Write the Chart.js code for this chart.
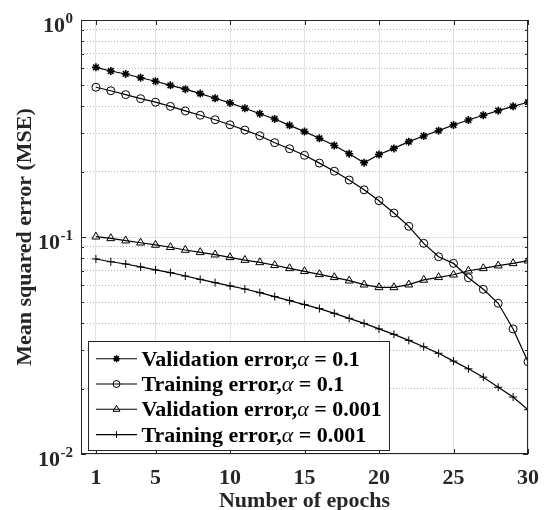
<!DOCTYPE html>
<html><head><meta charset="utf-8">
<script src="https://cdn.jsdelivr.net/npm/chart.js@4"></script>
<style>html,body{margin:0;padding:0;background:#fff}canvas{display:block}</style>
</head><body>
<canvas id="c" width="550" height="510"></canvas>
<script>
const epochs = [1,2,3,4,5,6,7,8,9,10,11,12,13,14,15,16,17,18,19,20,21,22,23,24,25,26,27,28,29,30];
const valErr01 = [0.605,0.582,0.564,0.542,0.522,0.500,0.480,0.458,0.436,0.415,0.392,0.370,0.350,0.327,0.306,0.285,0.264,0.242,0.220,0.240,0.256,0.275,0.292,0.309,0.328,0.346,0.364,0.382,0.400,0.418];
const trainErr01 = [0.490,0.472,0.453,0.434,0.418,0.400,0.381,0.364,0.347,0.329,0.311,0.293,0.272,0.255,0.238,0.219,0.201,0.183,0.165,0.147,0.129,0.112,0.0935,0.0811,0.0756,0.0649,0.0574,0.0495,0.0377,0.0266];
const valErr0001 = [0.1003,0.0986,0.0962,0.0941,0.0919,0.0897,0.0871,0.0850,0.0829,0.0806,0.0783,0.0764,0.0741,0.0717,0.0695,0.0673,0.0652,0.0629,0.0603,0.0586,0.0586,0.0603,0.0634,0.0652,0.0670,0.0699,0.0717,0.0738,0.0756,0.0778];
const trainErr0001 = [0.0792,0.0769,0.0751,0.0728,0.0705,0.0685,0.0661,0.0638,0.0616,0.0595,0.0576,0.0554,0.0531,0.0509,0.0488,0.0468,0.0445,0.0422,0.0400,0.0377,0.0356,0.0334,0.0312,0.0291,0.0268,0.0247,0.0226,0.0203,0.0183,0.0160];
const seriesLabels = ['Validation error,α = 0.1','Training error,α = 0.1','Validation error,α = 0.001','Training error,α = 0.001'];
const seriesMarkers = ['star','circle','triangle','cross'];
const xTickValues = [1,5,10,15,20,25,30];
const yTickValues = [0.01,0.02,0.03,0.04,0.05,0.06,0.07,0.08,0.09,0.1,0.2,0.3,0.4,0.5,0.6,0.7,0.8,0.9,1];
const yMajorValues = [0.01,0.1,1];
const yMajorExponents = ['-2','-1','0'];
const xTitle = 'Number of epochs';
const yTitle = 'Mean squared error (MSE)';

const FONT = '"Liberation Serif", "Times New Roman", serif';
const AX = '#262626';
const isMajor = v => yMajorValues.some(m => Math.abs(m - v) < 1e-9);

function mk(vals, i){
  const radius = seriesMarkers[i]==='triangle' ? 4.6 : 4;
  return {
    label: seriesLabels[i],
    data: vals.map((v,k)=>({x:epochs[k], y:v})),
    borderColor:'#000', borderWidth:1.2,
    pointStyle: seriesMarkers[i], pointRadius: radius,
    pointBorderWidth: seriesMarkers[i]==='star' ? 1.6 : 1,
    pointBorderColor:'#000', pointBackgroundColor:'rgba(0,0,0,0)',
    tension:0, fill:false
  };
}

function drawMarker(ctx, style, radius, bw, x, y){
  if (Chart.helpers && Chart.helpers.drawPoint){
    Chart.helpers.drawPoint(ctx, {pointStyle:style, rotation:0, radius:radius, borderWidth:bw}, x, y);
    return;
  }
  ctx.beginPath();
  if (style==='circle'){ ctx.arc(x,y,radius,0,Math.PI*2); }
  else if (style==='triangle'){ for(let k=0;k<3;k++){const a=-Math.PI/2+k*2*Math.PI/3; const px=x+Math.cos(a)*radius, py=y+Math.sin(a)*radius; k?ctx.lineTo(px,py):ctx.moveTo(px,py);} ctx.closePath(); }
  else { const arms = style==='star'?[0,45,90,135]:[0,90]; arms.forEach(d=>{const a=d*Math.PI/180; ctx.moveTo(x-Math.cos(a)*radius,y-Math.sin(a)*radius); ctx.lineTo(x+Math.cos(a)*radius,y+Math.sin(a)*radius);}); }
  ctx.stroke();
}

const decor = {
  id:'decor',
  afterDraw(chart){
    const {ctx, chartArea:a, scales:{x, y}} = chart;
    ctx.save();
    ctx.strokeStyle = AX; ctx.lineWidth = 1;
    // inner ticks
    ctx.beginPath();
    xTickValues.forEach(v=>{
      const px = Math.round(x.getPixelForValue(v)) + 0.5;
      ctx.moveTo(px, a.bottom); ctx.lineTo(px, a.bottom - 5);
      ctx.moveTo(px, a.top); ctx.lineTo(px, a.top + 5);
    });
    yTickValues.forEach(v=>{
      const py = Math.round(y.getPixelForValue(v)) + 0.5;
      const len = isMajor(v) ? 5 : 3;
      ctx.moveTo(a.left, py); ctx.lineTo(a.left + len, py);
      ctx.moveTo(a.right, py); ctx.lineTo(a.right - len, py);
    });
    ctx.stroke();
    // box
    ctx.strokeRect(Math.round(a.left)+0.5, Math.round(a.top)+0.5, Math.round(a.width)-1, Math.round(a.height)-1);
    // y tick labels 10^n
    ctx.fillStyle = AX;
    ctx.textAlign = 'right'; ctx.textBaseline = 'alphabetic';
    yMajorValues.forEach((v,i)=>{
      const py = y.getPixelForValue(v);
      const right = a.left - 8;
      ctx.font = 'bold 15px ' + FONT;
      const ew = ctx.measureText(yMajorExponents[i]).width;
      ctx.fillText(yMajorExponents[i], right, py + 3);
      ctx.font = 'bold 22px ' + FONT;
      ctx.fillText('10', right - ew - 0.5, py + 11.5);
    });
    // legend
    const lx = a.left + 7, ly = a.bottom - 113, lw = 301, lh = 109;
    ctx.fillStyle = '#fff';
    ctx.fillRect(lx, ly, lw, lh);
    ctx.strokeStyle = AX;
    ctx.strokeRect(lx + 0.5, ly + 0.5, lw, lh);
    chart.data.datasets.forEach((ds, i)=>{
      const ry = ly + 17.7 + i * 25.3;
      ctx.strokeStyle = '#000'; ctx.lineWidth = 1.1;
      ctx.beginPath(); ctx.moveTo(lx + 8, ry); ctx.lineTo(lx + 49, ry); ctx.stroke();
      ctx.fillStyle = 'rgba(0,0,0,0)';
      ctx.lineWidth = ds.pointBorderWidth;
      drawMarker(ctx, ds.pointStyle, ds.pointStyle==='triangle'?4:3.5, ds.pointBorderWidth, lx + 28.5, ry);
      const parts = ds.label.split('α');
      let tx = lx + 53.5;
      const by = ry + 7;
      ctx.fillStyle = '#000'; ctx.textAlign = 'left'; ctx.textBaseline = 'alphabetic';
      ctx.font = 'bold 22px ' + FONT;
      ctx.fillText(parts[0], tx, by); tx += ctx.measureText(parts[0]).width;
      ctx.font = 'italic 22px ' + FONT;
      ctx.fillText('α', tx, by); tx += ctx.measureText('α').width;
      ctx.font = 'bold 22px ' + FONT;
      ctx.fillText(parts[1], tx, by);
    });
    ctx.restore();
  }
};

new Chart(document.getElementById('c'), {
  type:'line',
  data:{ datasets:[ mk(valErr01,0), mk(trainErr01,1), mk(valErr0001,2), mk(trainErr0001,3) ] },
  options:{
    responsive:false, animation:false, devicePixelRatio:1,
    layout:{ padding:{ top:20, right:19, left:0, bottom:0 } },
    plugins:{ legend:{display:false}, tooltip:{enabled:false} },
    scales:{
      x:{
        type:'linear', min:0, max:30,
        afterBuildTicks: s => { s.ticks = xTickValues.map(v=>({value:v})); },
        afterFit: s => { s.height = 56; },
        ticks:{ color:AX, font:{family:FONT, size:22, weight:'bold'}, padding:11, maxRotation:0, autoSkip:false },
        grid:{ color:'#e3e3e3', lineWidth:1, drawTicks:false },
        border:{ display:false },
        title:{ display:true, text:xTitle, color:AX, font:{family:FONT, size:22, weight:'bold', lineHeight:0.8}, padding:{top:0,bottom:0} }
      },
      y:{
        type:'logarithmic', min:0.01, max:1,
        afterBuildTicks: s => { s.ticks = yTickValues.map(v=>({value:v, major:isMajor(v)})); },
        afterFit: s => { s.width = 81; },
        ticks:{ callback: () => '', autoSkip:false },
        grid:{ color: c => (c.tick && !isMajor(c.tick.value)) ? '#b5b5b5' : '#e3e3e3', lineWidth:1, drawTicks:false },
        border:{ display:false, dash: c => (c.tick && !isMajor(c.tick.value)) ? [1,2] : [] },
        title:{ display:true, text:yTitle, color:AX, font:{family:FONT, size:22, weight:'bold', lineHeight:1}, padding:{top:14,bottom:0} }
      }
    }
  },
  plugins:[decor]
});
</script>
</body></html>
